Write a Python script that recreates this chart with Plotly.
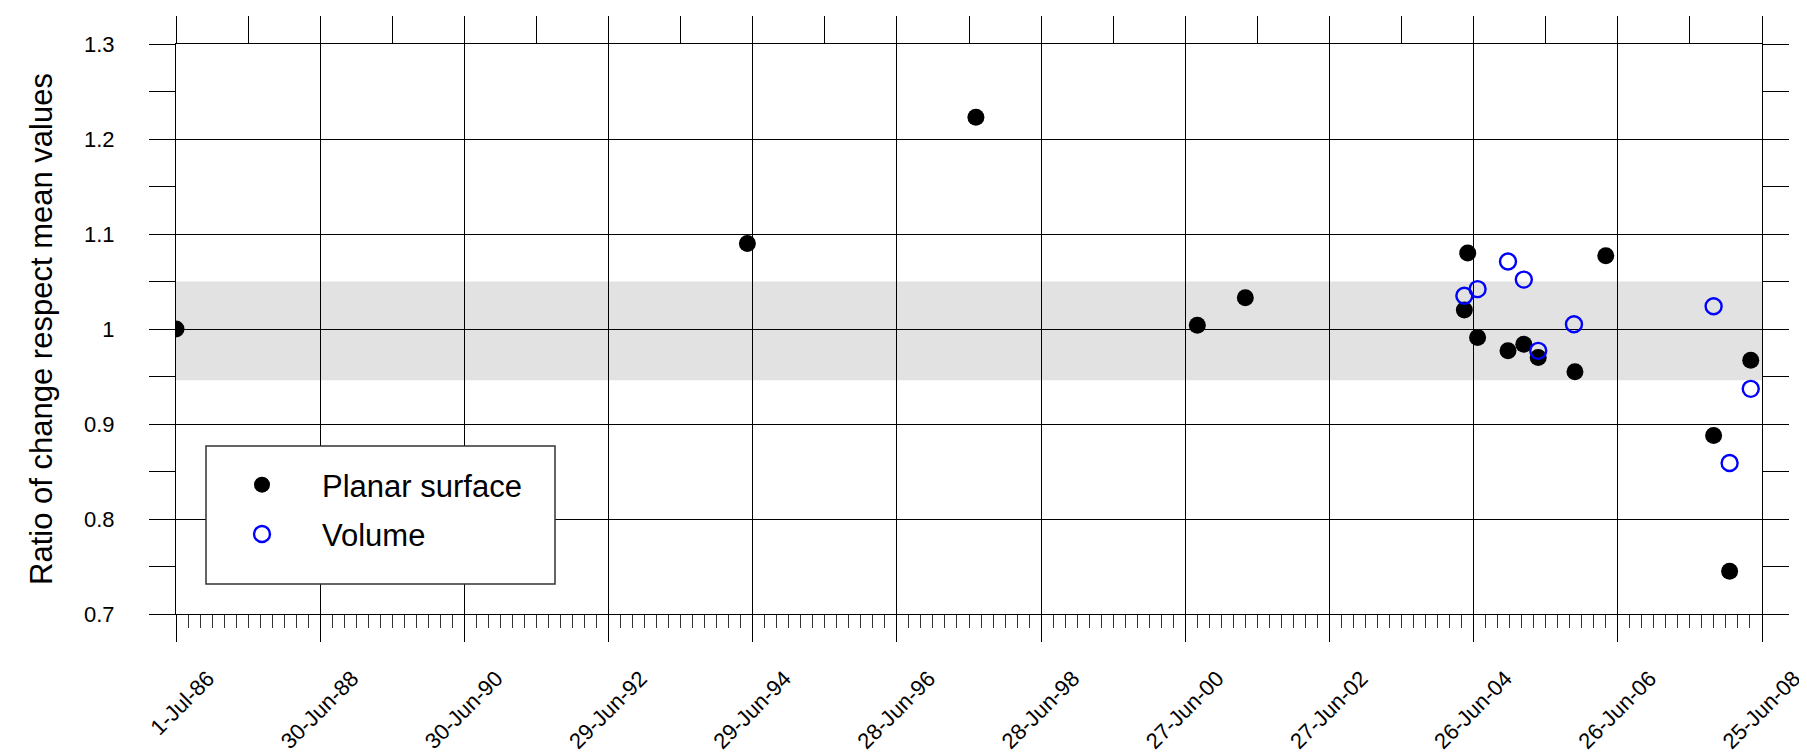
import plotly.graph_objects as go
import pandas as pd

# ---- data ----
planar_dates = ["1986-07-01", "1994-06-02", "1997-08-02", "2000-08-27", "2001-04-27",
                "2004-05-27", "2004-05-10", "2004-07-16", "2004-12-17", "2005-03-07",
                "2005-05-19", "2005-11-21", "2006-04-26", "2007-10-24", "2008-01-13",
                "2008-04-29"]
planar_vals = [1.000, 1.090, 1.223, 1.004, 1.033,
               1.080, 1.020, 0.991, 0.977, 0.984,
               0.970, 0.955, 1.077, 0.888, 0.745,
               0.967]

volume_dates = ["2004-05-10", "2004-07-16", "2004-12-17", "2005-03-07", "2005-05-19",
                "2005-11-16", "2007-10-24", "2008-01-13", "2008-04-29"]
volume_vals = [1.035, 1.042, 1.071, 1.052, 0.977,
               1.005, 1.024, 0.859, 0.937]

tick_dates = ["1986-07-01", "1988-06-30", "1990-06-30", "1992-06-29", "1994-06-29",
              "1996-06-28", "1998-06-28", "2000-06-27", "2002-06-27", "2004-06-26",
              "2006-06-26", "2008-06-25"]
tick_labels = ["1-Jul-86", "30-Jun-88", "30-Jun-90", "29-Jun-92", "29-Jun-94",
               "28-Jun-96", "28-Jun-98", "27-Jun-00", "27-Jun-02", "26-Jun-04",
               "26-Jun-06", "25-Jun-08"]

band_low, band_high = 0.946, 1.05
y_min, y_max = 0.7, 1.3

FONT = "Arial, Liberation Sans, sans-serif"

start = pd.Timestamp(tick_dates[0])
n_major = len(tick_dates) - 1
# minor ticks: 12 per major interval (bottom), 2 per major interval (top)
minor_bottom = [(start + pd.Timedelta(days=730 * k / 12)).strftime("%Y-%m-%d %H:%M")
                for k in range(n_major * 12 + 1) if k % 12 != 0]
top_ticks = [(start + pd.Timedelta(days=365 * k)).strftime("%Y-%m-%d")
             for k in range(n_major * 2 + 1)]

fig = go.Figure()

fig.add_trace(go.Scatter(
    x=planar_dates, y=planar_vals, mode="markers", name="Planar surface",
    legendgroup="a",
    marker=dict(symbol="circle", size=17, color="black", line=dict(width=0)),
))
fig.add_trace(go.Scatter(
    x=volume_dates, y=volume_vals, mode="markers", name="Volume",
    legendgroup="b",
    marker=dict(symbol="circle-open", size=16, color="#0000ff", line=dict(width=2.4, color="#0000ff")),
))
# invisible trace to activate top axis
fig.add_trace(go.Scatter(x=[tick_dates[0], tick_dates[-1]], y=[None, None], xaxis="x2",
                         showlegend=False, hoverinfo="skip", mode="markers"))

# shaded band
fig.add_shape(type="rect", xref="paper", yref="y", x0=0, x1=1, y0=band_low, y1=band_high,
              fillcolor="#e2e2e2", line=dict(width=0), layer="below")

W, H = 1807, 756
L, R, T, B = 168, 53, 36, 150
pw, ph = W - L - R, H - T - B
def px_x(px):
    return (px - L) / pw
def px_y(py):
    return (H - B - py) / ph

# legend box
fig.add_shape(type="rect", xref="paper", yref="paper",
              x0=px_x(198), x1=px_x(547), y0=px_y(576), y1=px_y(438),
              fillcolor="white", line=dict(color="#333333", width=1.5), layer="above")

fig.update_layout(
    width=W, height=H, autosize=False,
    margin=dict(l=L, r=R, t=T, b=B, pad=0, autoexpand=False),
    paper_bgcolor="white", plot_bgcolor="white",
    font=dict(family=FONT, color="black"),
    showlegend=True,
    legend=dict(x=px_x(194), y=px_y(450), xanchor="left", yanchor="top",
                bgcolor="rgba(0,0,0,0)", borderwidth=0,
                font=dict(size=31, family=FONT, color="black"),
                itemwidth=110, tracegroupgap=6),
    xaxis=dict(
        type="date", range=[tick_dates[0], tick_dates[-1]], automargin=False,
        tickmode="array", tickvals=tick_dates, ticktext=tick_labels,
        tickangle=-45, tickfont=dict(size=22, family=FONT, color="black"),
        ticks="outside", ticklen=27, tickwidth=1, tickcolor="black",
        ticklabelstandoff=15, ticklabelshift=32,
        showgrid=True, gridcolor="black", gridwidth=1,
        showline=True, linecolor="black", linewidth=1, mirror=True,
        zeroline=False,
        minor=dict(tickmode="array", tickvals=minor_bottom, ticks="outside",
                   ticklen=13, tickwidth=1, tickcolor="#333333", showgrid=False),
    ),
    xaxis2=dict(
        type="date", overlaying="x", side="top", matches="x", automargin=False,
        range=[tick_dates[0], tick_dates[-1]],
        tickmode="array", tickvals=top_ticks, showticklabels=False,
        ticks="outside", ticklen=27, tickwidth=1, tickcolor="black",
        showgrid=False, showline=False, zeroline=False,
    ),
    yaxis=dict(
        range=[y_min, y_max], tick0=0.7, dtick=0.1, automargin=False,
        tickfont=dict(size=22, family=FONT, color="black"),
        ticks="outside", ticklen=26, tickwidth=1, tickcolor="black",
        ticklabelstandoff=30,
        showgrid=True, gridcolor="black", gridwidth=1,
        showline=True, linecolor="black", linewidth=1, mirror="allticks",
        zeroline=False,
        minor=dict(dtick=0.05, tick0=0.7, ticks="outside", ticklen=26, tickwidth=1,
                   tickcolor="black", showgrid=False),
        title=dict(text="Ratio of change respect mean values",
                   font=dict(size=31, family=FONT, color="black"), standoff=22),
    ),
)

fig.write_html("out.html")
